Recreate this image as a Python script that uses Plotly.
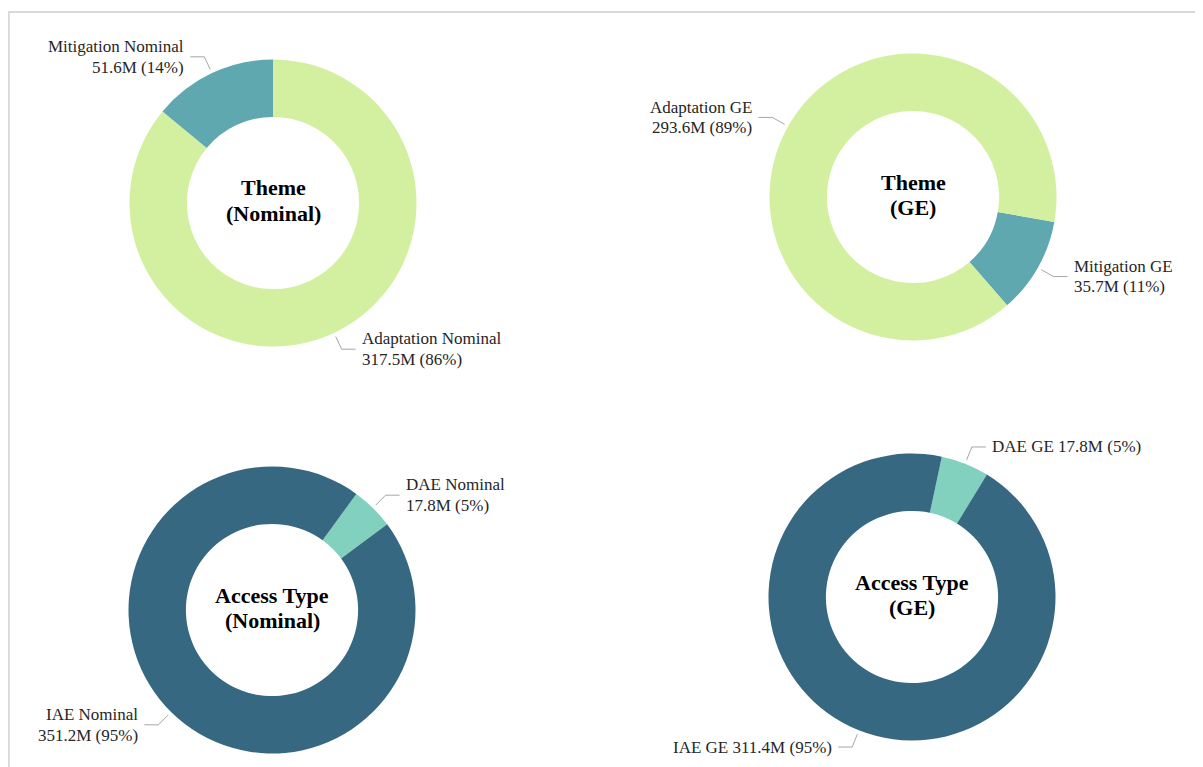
import math
import plotly.graph_objects as go

W, H = 1203, 767          # browser window
OFF = 8                   # default page margin of the html body
FW, FH = W - OFF, H - OFF # figure size

# ---------------- data ----------------
theme_nom_labels = ["Adaptation Nominal", "Mitigation Nominal"]
theme_nom_values = [317.5, 51.6]
theme_ge_labels = ["Mitigation GE", "Adaptation GE"]
theme_ge_values = [35.7, 293.6]
access_nom_labels = ["DAE Nominal", "IAE Nominal"]
access_nom_values = [17.8, 351.2]
access_ge_labels = ["DAE GE", "IAE GE"]
access_ge_values = [17.8, 311.4]
center_titles = [["Theme", "(Nominal)"], ["Theme", "(GE)"],
                 ["Access Type", "(Nominal)"], ["Access Type", "(GE)"]]

# ---------------- style ----------------
colors = {"Adaptation": "#d3f0a1", "Mitigation": "#5fa8b0",
          "IAE": "#376882", "DAE": "#81d1be"}
FONT = "Liberation Serif"
LABEL_SIZE = 17
LABEL_GAP = 20.5
TITLE_SIZE = 22
TITLE_GAP = 25
TITLE_SHIFT = -2.5
LINE_COLOR = "#a6a6a6"
R = 143.5
HOLE = 0.6

charts = [
    dict(labels=theme_nom_labels, values=theme_nom_values, title=center_titles[0],
         center=(273, 203), rotation=0, two_lines=True),
    dict(labels=theme_ge_labels, values=theme_ge_values, title=center_titles[1],
         center=(913, 197), rotation=100, two_lines=True),
    dict(labels=access_nom_labels, values=access_nom_values, title=center_titles[2],
         center=(272, 610), rotation=36, two_lines=True),
    dict(labels=access_ge_labels, values=access_ge_values, title=center_titles[3],
         center=(912, 597), rotation=12, two_lines=False),
]


def px(x):
    return (x - OFF) / FW


def py(y):
    return 1 - (y - OFF) / FH


fig = go.Figure()
shapes = []
annotations = []

for ch in charts:
    cx, cy = ch["center"]
    labels, values = ch["labels"], ch["values"]
    cols = [colors[l.split(" ")[0]] for l in labels]
    fig.add_trace(go.Pie(
        labels=labels, values=values, hole=HOLE, sort=False,
        direction="clockwise", rotation=ch["rotation"],
        marker=dict(colors=cols, line=dict(width=0)),
        textinfo="none", hoverinfo="label+value+percent",
        domain=dict(x=[px(cx - R), px(cx + R)], y=[py(cy + R), py(cy - R)]),
        showlegend=False,
    ))
    # center title (two lines)
    for k, line in enumerate(ch["title"]):
        annotations.append(dict(
            x=px(cx), y=py(cy + TITLE_SHIFT + (k - 0.5) * TITLE_GAP),
            xref="paper", yref="paper",
            showarrow=False, text="<b>" + line + "</b>",
            xanchor="center", yanchor="middle",
            font=dict(family=FONT, size=TITLE_SIZE, color="#000000")))
    # slice labels with leader lines
    total = sum(values)
    start = ch["rotation"]
    for lab, v in zip(labels, values):
        frac = v / total
        mid = math.radians(start + frac * 180)
        start += frac * 360
        ux, uy = math.sin(mid), -math.cos(mid)
        x1, y1 = cx + (R + 4) * ux, cy + (R + 4) * uy
        x2, y2 = cx + (R + 18) * ux, cy + (R + 18) * uy
        side = 1 if ux >= 0 else -1
        x3 = x2 + side * 14
        shapes.append(dict(
            type="path", xref="paper", yref="paper",
            path=f"M {px(x1)} {py(y1)} L {px(x2)} {py(y2)} L {px(x3)} {py(y2)}",
            line=dict(color=LINE_COLOR, width=1)))
        value_text = f"{v:.1f}M ({round(100 * frac)}%)"
        if ch["two_lines"]:
            lines = [(lab, y2 - LABEL_GAP / 2), (value_text, y2 + LABEL_GAP / 2)]
        else:
            lines = [(f"{lab} {value_text}", y2)]
        for t, ty in lines:
            annotations.append(dict(
                x=px(x3 + side * 4), y=py(ty), xref="paper", yref="paper",
                showarrow=False, text=t,
                xanchor="left" if side > 0 else "right", yanchor="middle",
                font=dict(family=FONT, size=LABEL_SIZE, color="#262626")))

# outer frame
shapes.append(dict(type="line", xref="paper", yref="paper",
                   x0=px(8), y0=py(12), x1=1, y1=py(12),
                   line=dict(color="#d9d9d9", width=2)))
shapes.append(dict(type="line", xref="paper", yref="paper",
                   x0=px(8.8), y0=py(12), x1=px(8.8), y1=0,
                   line=dict(color="#d9d9d9", width=2)))

fig.update_layout(
    width=FW, height=FH, margin=dict(l=0, r=0, t=0, b=0),
    paper_bgcolor="white", plot_bgcolor="white",
    shapes=shapes, annotations=annotations, showlegend=False,
)

fig.write_html("out.html")
